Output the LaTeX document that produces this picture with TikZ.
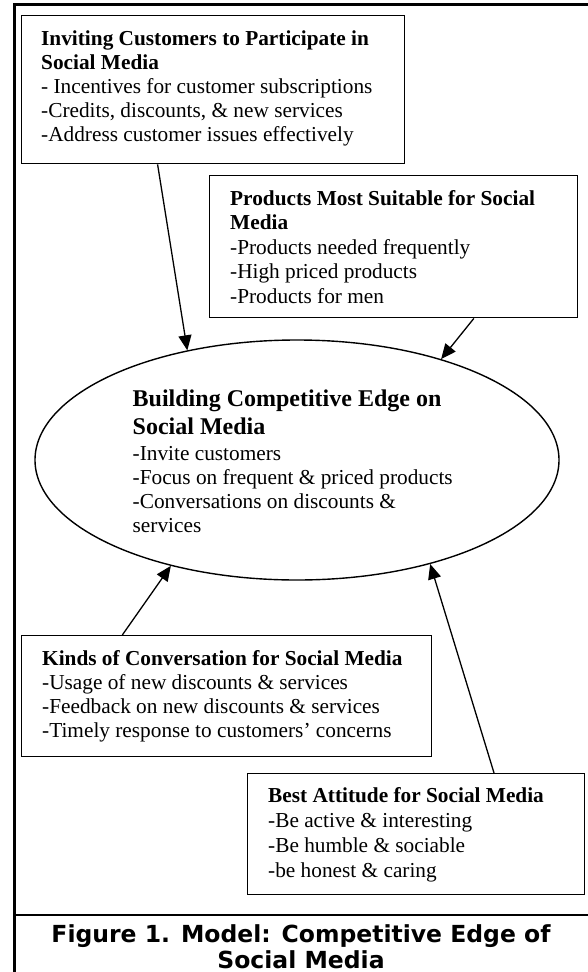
\documentclass[tikz,border=0pt]{standalone}
\usepackage{fontspec}
\setmainfont{Liberation Serif}
\newfontfamily\capfont{DejaVu Sans}
\usetikzlibrary{arrows.meta,calc,shapes.geometric}

% left-aligned stack of lines; its baseline is that of the first line
\newcommand\linestack[2]{\vtop{\baselineskip=#1\lineskip=0pt\lineskiplimit=-100pt\halign{##\hfil\cr#2\crcr}}}

\begin{document}
\begin{tikzpicture}[x=1pt,y=-1pt,
  frameline/.style={line width=2.3pt},
  infobox/.style={draw, line width=1.4pt, inner sep=0pt, anchor=north west},
  txt/.style={inner sep=0pt, anchor=base west, font=\fontsize{21.3}{24}\selectfont},
  bigtxt/.style={inner sep=0pt, anchor=base west, font=\fontsize{24}{28}\selectfont\bfseries},
  arr/.style={-{Triangle[length=15pt,width=13pt]}, line width=1.3pt},
  captxt/.style={inner sep=0pt, anchor=base, font=\capfont\bfseries\fontsize{23.5}{26}\selectfont}]

\useasboundingbox (0,0) rectangle (588,972);

% outer frame and caption rule
\draw[frameline] (14.5,972) -- (14.5,4.5) -- (588,4.5);
\draw[frameline] (14.5,915) -- (588,915);

% boxes
\node[infobox, minimum width=383.4pt, minimum height=148pt] (box1) at (20.6,15) {};
\node[infobox, minimum width=368pt, minimum height=142pt] (box2) at (209,175) {};
\node[infobox, minimum width=410.4pt, minimum height=121pt] (box3) at (20.6,635) {};
\node[infobox, minimum width=337pt, minimum height=121pt] (box4) at (247,773) {};
\node[draw, ellipse, line width=1.4pt, inner sep=0pt, minimum width=524pt, minimum height=240pt] (ell) at (297,460) {};

% box texts
\node[txt] (t1) at (41,45.5) {\linestack{24.05pt}{\textbf{Inviting Customers to Participate in}\cr
  \textbf{Social Media}\cr
  - Incentives for customer subscriptions\cr
  -Credits, discounts, \& new services\cr
  -Address customer issues effectively}};

\node[txt] (t2) at (230,205) {\linestack{24.5pt}{\textbf{Products Most Suitable for Social}\cr
  \textbf{Media}\cr
  -Products needed frequently\cr
  -High priced products\cr
  -Products for men}};

\node[bigtxt] (t5a) at (132.5,406) {\linestack{28pt}{Building Competitive Edge on\cr Social Media}};
\node[txt] (t5b) at (132.5,460) {\linestack{24pt}{-Invite customers\cr
  -Focus on frequent \& priced products\cr
  -Conversations on discounts \&\cr
  services}};

\node[txt] (t3) at (42,665) {\linestack{24.3pt}{\textbf{Kinds of Conversation for Social Media}\cr
  -Usage of new discounts \& services\cr
  -Feedback on new discounts \& services\cr
  -Timely response to customers’ concerns}};

\node[txt] (t4) at (268,802) {\linestack{25pt}{\textbf{Best Attitude for Social Media}\cr
  -Be active \& interesting\cr
  -Be humble \& sociable\cr
  -be honest \& caring}};

% connectors
\coordinate (s1) at ($(box1.south west)!0.356!(box1.south east)$);
\coordinate (s2) at ($(box2.south west)!0.717!(box2.south east)$);
\coordinate (s3) at ($(box3.north west)!0.247!(box3.north east)$);
\coordinate (s4) at ($(box4.north west)!0.73!(box4.north east)$);
\draw[arr] (s1) -- (ell.135);
\draw[arr] (s2) -- (ell.35);
\draw[arr] (s3) -- (ell.220);
\draw[arr] (s4) -- (ell.322);

% caption
\node[captxt] (cap1) at (301,942) {Figure 1. Model: Competitive Edge of};
\node[captxt] (cap2) at (301,968) {Social Media};
\end{tikzpicture}
\end{document}
